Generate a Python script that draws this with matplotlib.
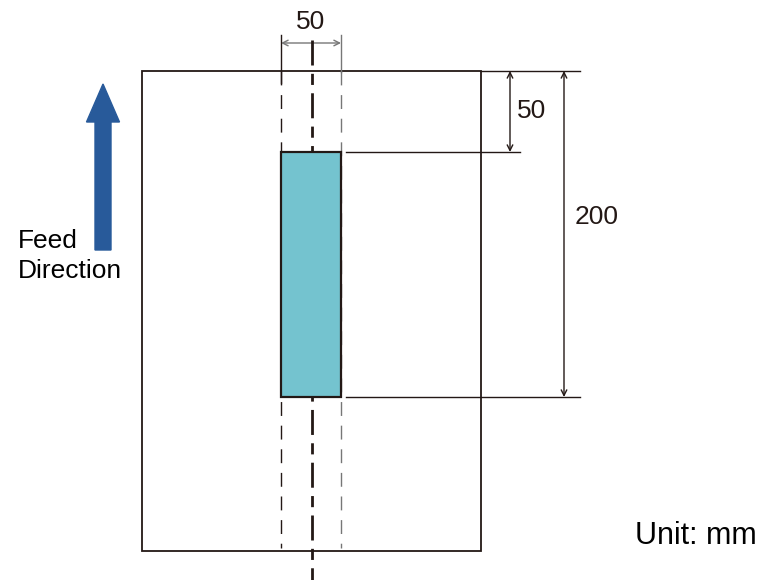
import matplotlib.pyplot as plt
from matplotlib.patches import Rectangle, FancyArrow

plt.rcParams['font.family'] = ['Liberation Sans', 'DejaVu Sans']

# dimension labels (mm)
width_label = "50"
offset_label = "50"
length_label = "200"
unit_label = "Unit: mm"
feed_label = "Feed\nDirection"

# layout in pixel-like units (y grows downward)
paper = (142, 71, 481, 551)      # left, top, right, bottom
patch = (281, 152, 341, 397)
center_x = 312

fig = plt.figure(figsize=(7.6, 5.8), dpi=100)
ax = fig.add_axes([0, 0, 1, 1])
ax.set_xlim(0, 760)
ax.set_ylim(580, 0)
ax.axis('off')

dark = '#231815'
grey = '#777777'

# paper outline
pl, pt, pr, pb = paper
ax.add_patch(Rectangle((pl, pt), pr - pl, pb - pt, fill=False, ec=dark, lw=1.3))

# detection patch
xl, yt, xr, yb = patch
ax.add_patch(Rectangle((xl, yt), xr - xl, yb - yt, fc='#74C3CF', ec=dark, lw=1.6, zorder=5))

# dashed guide lines along patch edges
ax.plot([xl, xl], [pt, pb - 3], color=dark, lw=1, ls=(0, (10, 7)))
ax.plot([xr, xr], [pt, pb - 3], color=grey, lw=1, ls=(0, (10, 7)))
ax.plot([xl, xl], [35, 83], color=dark, lw=1)
ax.plot([xr, xr], [35, 72], color=grey, lw=1)

# centre line
ax.plot([center_x, center_x], [40, 580], color=dark, lw=2, ls=(0, (9, 3, 4, 3)), zorder=4)

# width dimension
ax.annotate('', xy=(xl, 43), xytext=(xr, 43),
            arrowprops=dict(arrowstyle='<->', color=grey, lw=1, shrinkA=0, shrinkB=0))
ax.text(center_x - 1, 22, width_label, ha='center', va='center', fontsize=19, color=dark)

# extension lines on the right
ax.plot([pr, 580], [pt, pt], color=dark, lw=1)
ax.plot([xr + 5, 520], [yt, yt], color=dark, lw=1)
ax.plot([346, 580], [yb, yb], color=dark, lw=1)

# offset dimension
ax.annotate('', xy=(510, pt), xytext=(510, yt),
            arrowprops=dict(arrowstyle='<->', color=dark, lw=1, shrinkA=0, shrinkB=0))
ax.text(532, 111, offset_label, ha='center', va='center', fontsize=19, color=dark)

# length dimension
ax.annotate('', xy=(564, pt), xytext=(564, yb),
            arrowprops=dict(arrowstyle='<->', color=dark, lw=1, shrinkA=0, shrinkB=0))
ax.text(597, 217, length_label, ha='center', va='center', fontsize=19, color=dark)

# feed direction arrow
ax.add_patch(FancyArrow(103, 250, 0, -166, width=16, head_width=33, head_length=38,
                        length_includes_head=True, fc='#285A9A', ec='#285A9A'))
ax.text(18, 256, feed_label, ha='left', va='center', fontsize=19, color='black',
        linespacing=1.3)

ax.text(757, 536, unit_label, ha='right', va='center', fontsize=22, color='black')

fig.savefig('out.png', dpi=100)
